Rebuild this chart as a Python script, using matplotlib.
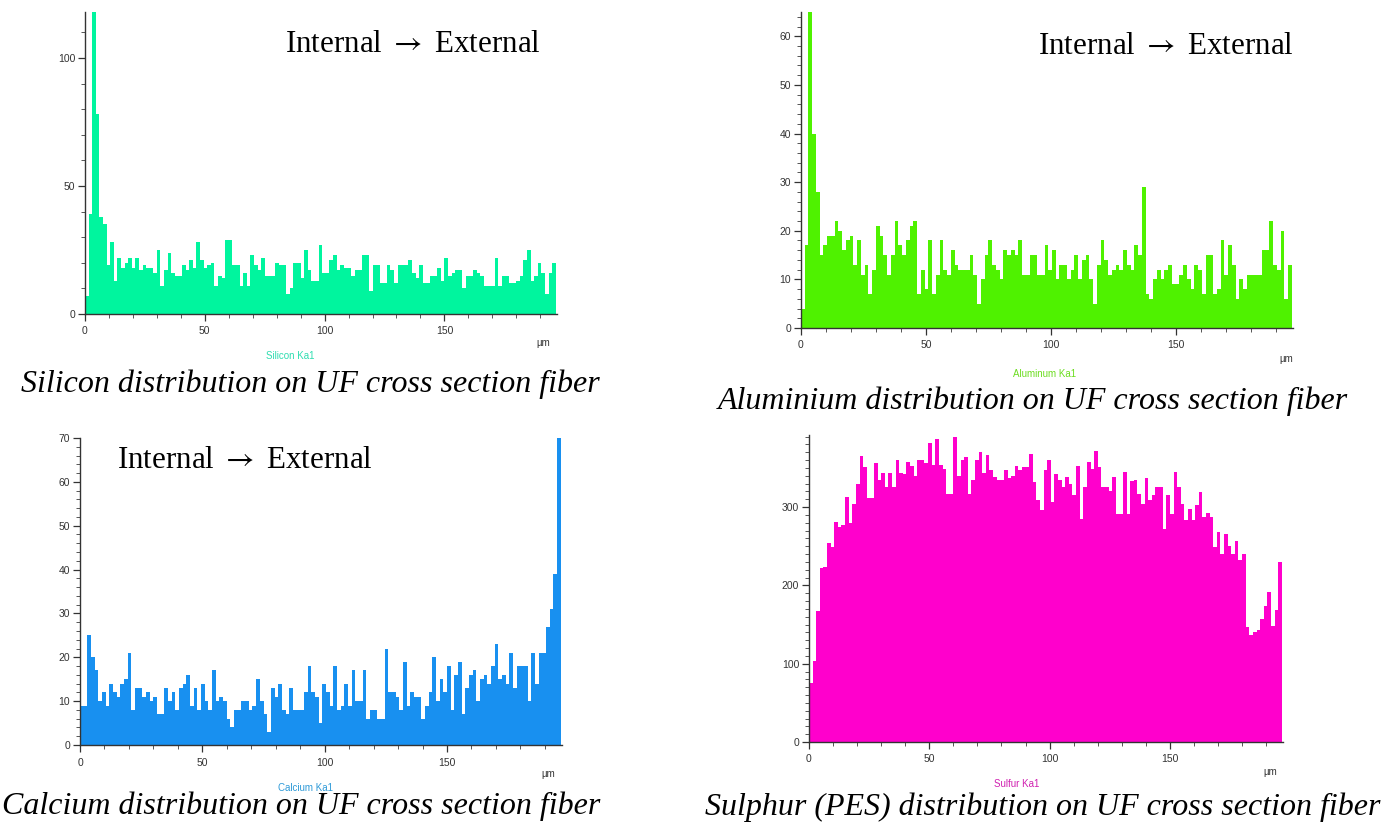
import matplotlib
matplotlib.use("Agg")
import matplotlib.pyplot as plt
from matplotlib.ticker import MultipleLocator, FixedLocator

plt.rcParams["mathtext.fontset"] = "stix"

W, H = 1390, 833
BIN = 1.5  # µm per bar

# ---------------- data (counts per 1.5 µm bin) -------------
silicon = [7, 39, 125, 78, 38, 35, 19, 28, 13, 22, 18, 20, 22, 18, 22, 17, 19, 18, 18, 16,
           25, 11, 17, 24, 16, 15, 15, 19, 17, 21, 18, 28, 21, 18, 19, 20, 11, 15, 14, 29,
           29, 19, 19, 11, 16, 11, 23, 19, 17, 22, 15, 15, 15, 20, 19, 19, 8, 10, 20, 20,
           14, 25, 17, 13, 13, 27, 16, 16, 21, 23, 17, 19, 18, 18, 15, 17, 17, 23, 23, 9,
           19, 19, 12, 12, 19, 17, 12, 19, 19, 19, 21, 16, 14, 19, 12, 12, 15, 15, 18, 13,
           22, 15, 16, 17, 17, 10, 15, 15, 17, 16, 15, 11, 11, 11, 22, 11, 15, 15, 12, 12,
           13, 15, 21, 25, 13, 15, 20, 16, 8, 16, 20]

aluminium = [4, 17, 65, 40, 28, 15, 17, 19, 19, 22, 20, 16, 18, 19, 13, 18, 11, 13, 7, 12,
             21, 19, 15, 11, 15, 22, 17, 15, 18, 21, 22, 7, 12, 8, 18, 7, 11, 18, 12, 11,
             16, 13, 12, 12, 12, 15, 11, 5, 10, 15, 18, 13, 12, 10, 16, 15, 16, 15, 18, 11,
             11, 15, 15, 11, 11, 17, 12, 16, 10, 13, 13, 10, 12, 15, 10, 14, 15, 10, 5, 13,
             18, 14, 11, 12, 13, 12, 16, 13, 12, 17, 15, 29, 7, 6, 10, 12, 10, 12, 13, 9,
             9, 11, 13, 10, 8, 13, 12, 7, 15, 15, 7, 8, 18, 11, 17, 13, 6, 10, 8, 11,
             11, 11, 11, 16, 16, 22, 13, 12, 20, 6, 13]

calcium = [9, 9, 25, 20, 17, 10, 12, 9, 14, 12, 11, 14, 15, 21, 8, 13, 13, 11, 12, 10,
           11, 7, 7, 13, 10, 12, 8, 13, 14, 16, 9, 13, 8, 14, 10, 8, 17, 10, 11, 10,
           6, 4, 8, 8, 10, 10, 8, 9, 15, 10, 7, 3, 13, 11, 14, 8, 7, 13, 8, 8,
           8, 12, 18, 12, 11, 5, 14, 12, 9, 18, 8, 9, 14, 9, 17, 10, 10, 17, 6, 8,
           8, 6, 6, 22, 12, 12, 11, 8, 19, 9, 12, 11, 11, 6, 9, 12, 20, 10, 15, 12,
           18, 8, 16, 19, 7, 13, 16, 17, 10, 15, 16, 14, 18, 23, 15, 16, 14, 21, 13, 18,
           18, 18, 10, 21, 14, 21, 21, 27, 31, 39, 70]

sulphur = [75, 104, 167, 222, 223, 254, 249, 281, 274, 277, 313, 279, 304, 330, 365, 351, 311, 312, 356, 334,
           343, 325, 343, 326, 360, 343, 342, 357, 352, 340, 360, 360, 356, 382, 354, 387, 354, 349, 317, 317,
           389, 340, 360, 364, 317, 334, 360, 370, 343, 367, 347, 339, 334, 335, 347, 337, 340, 352, 347,
           351, 351, 368, 332, 309, 296, 347, 360, 306, 342, 335, 325, 339, 330, 316, 353, 285, 326, 357, 349,
           372, 351, 325, 325, 320, 339, 291, 291, 345, 291, 333, 334, 317, 304, 337, 309, 315, 326, 326, 272,
           316, 291, 345, 326, 304, 283, 298, 283, 303, 319, 287, 292, 287, 249, 268, 240, 265, 250, 240, 257,
           233, 240, 147, 136, 140, 143, 157, 174, 191, 148, 169, 230]

element_labels = ["Silicon Ka1", "Aluminum Ka1", "Calcium Ka1", "Sulfur Ka1"]
captions = ["Silicon distribution on UF cross section fiber",
            "Aluminium distribution on UF cross section fiber",
            "Calcium distribution on UF cross section fiber",
            "Sulphur (PES) distribution on UF cross section fiber"]
direction_text = "Internal $\\rightarrow$ External"
unit_text = "\u00b5m"
x_major = [0, 50, 100, 150]

# ---------------- figure ------------------------------------------------------------
fig = plt.figure(figsize=(W / 100, H / 100), dpi=100)
fig.patch.set_facecolor("white")

SANS = ["Liberation Sans", "DejaVu Sans"]
SERIF = ["Liberation Serif", "DejaVu Serif"]


def px_axes(x0, x1, ybot, ytop):
    return fig.add_axes([x0 / W, 1 - ybot / H, (x1 - x0) / W, (ybot - ytop) / H])


def ftext(x, y, s, **kw):
    fig.text(x / W, 1 - y / H, s, ha="center", va="center", **kw)


panels = [
    dict(vals=silicon, color="#00F59E", lab_color="#2EDDB0", box=(85, 557, 314, 12), ymax=118,
         ymaj=50, ymin=10, lab=(290, 356), unit=(543, 343), cap=(310, 384), arrow=(413, 44)),
    dict(vals=aluminium, color="#4FF200", lab_color="#6CDD20", box=(801, 1293, 328, 12), ymax=65,
         ymaj=10, ymin=2, lab=(1045, 374), unit=(1286, 359), cap=(1033, 401), arrow=(1166, 47)),
    dict(vals=calcium, color="#1890F0", lab_color="#2E9AD8", box=(80, 562, 745, 438), ymax=70,
         ymaj=10, ymin=2, lab=(305, 788), unit=(548, 774), cap=(301, 806), arrow=(245, 461)),
    dict(vals=sulphur, color="#FF00CC", lab_color="#D020B0", box=(809, 1283, 742, 435), ymax=392,
         ymaj=100, ymin=10, lab=(1017, 784), unit=(1270, 772), cap=(1043, 807), arrow=None),
]

for i, p in enumerate(panels):
    x0, x1, yb, yt = p["box"]
    ax = px_axes(x0, x1, yb, yt)
    vals = p["vals"]
    lefts = [k * BIN for k in range(len(vals))]
    ax.bar(lefts, vals, width=BIN, align="edge", color=p["color"], linewidth=0)
    ax.set_xlim(0, 197)
    ax.set_ylim(0, p["ymax"])
    ax.set_facecolor("white")
    for side in ("top", "right"):
        ax.spines[side].set_visible(False)
    for side in ("left", "bottom"):
        ax.spines[side].set_color("#333333")
        ax.spines[side].set_linewidth(1.0)
    ax.xaxis.set_major_locator(FixedLocator(x_major))
    ax.xaxis.set_minor_locator(MultipleLocator(10))
    ax.yaxis.set_major_locator(MultipleLocator(p["ymaj"]))
    ax.yaxis.set_minor_locator(MultipleLocator(p["ymin"]))
    ax.tick_params(axis="both", which="major", direction="out", length=5, width=0.9,
                   color="#333333", labelsize=7.5, labelcolor="#333333")
    ax.tick_params(axis="x", which="major", pad=4)
    ax.tick_params(axis="y", which="major", pad=2)
    ax.tick_params(axis="both", which="minor", direction="out", length=3, width=0.7,
                   color="#555555")
    for lbl in ax.get_xticklabels() + ax.get_yticklabels():
        lbl.set_family(SANS)

    ftext(*p["lab"], element_labels[i], fontsize=7, color=p["lab_color"], family=SANS)
    ftext(*p["unit"], unit_text, fontsize=7, color="#333333", family=SANS)
    ftext(*p["cap"], captions[i], fontsize=23, style="italic", color="black", family=SERIF)
    if p["arrow"] is not None:
        ftext(*p["arrow"], direction_text, fontsize=22.3, color="black", family=SERIF)

fig.savefig("out.png", dpi=100, facecolor="white")
